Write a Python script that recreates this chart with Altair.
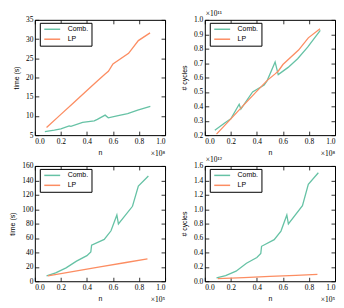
import altair as alt
import pandas as pd

series = ["Comb.", "LP"]
colors = ["#66c2a5", "#fc8d62"]
x_ticks = [0.0, 0.2, 0.4, 0.6, 0.8, 1.0]

# top row: n in units of 1e8
top_comb_n = [0.077, 0.15, 0.2, 0.264, 0.277, 0.367, 0.456, 0.48, 0.54, 0.564, 0.64, 0.713, 0.79, 0.887]
top_comb_time = [5.94, 6.3, 6.6, 7.4, 7.3, 8.3, 8.7, 9.1, 10.2, 9.5, 10.1, 10.6, 11.5, 12.5]
top_comb_cycles = [0.234, 0.283, 0.313, 0.414, 0.38, 0.5, 0.547, 0.58, 0.708, 0.62, 0.67, 0.73, 0.81, 0.927]
top_lp_n = [0.09, 0.2, 0.3, 0.4, 0.48, 0.54, 0.565, 0.6, 0.72, 0.795, 0.885]
top_lp_time = [7.0, 10.4, 13.5, 16.6, 19.1, 20.9, 21.6, 23.5, 26.3, 29.6, 31.6]
top_lp_cycles = [0.207, 0.313, 0.41, 0.505, 0.58, 0.625, 0.645, 0.69, 0.79, 0.875, 0.938]

# bottom row: n in units of 1e5
bot_comb_n = [0.09, 0.16, 0.24, 0.32, 0.40, 0.43, 0.436, 0.533, 0.585, 0.63, 0.642, 0.75, 0.795, 0.872]
bot_comb_time = [7.3, 11.5, 18.5, 27.9, 35.5, 40.7, 49.9, 58, 70, 92, 79.6, 104, 132, 146]
bot_comb_cycles = [0.046, 0.078, 0.14, 0.25, 0.33, 0.384, 0.485, 0.577, 0.696, 0.92, 0.796, 1.048, 1.346, 1.506]
bot_lp_n = [0.1, 0.3, 0.5, 0.7, 0.865]
bot_lp_time = [7.5, 13.8, 20.0, 26.0, 31.0]
bot_lp_cycles = [0.036, 0.051, 0.067, 0.082, 0.095]

W, H = 131, 116
SERIF = "Liberation Serif"
SANS = "Liberation Sans"


def make_df(nc, vc, nl, vl):
    return pd.DataFrame({
        "n": nc + nl,
        "v": vc + vl,
        "s": [series[0]] * len(nc) + [series[1]] * len(nl),
    })


def panel(df, ydom, yvals, yfmt, ytitle, xexp, yexp):
    xs = alt.Scale(domain=[0, 1], nice=False, zero=False)
    ys = alt.Scale(domain=ydom, nice=False, zero=False)
    tick = alt.ExprRef(expr="-4")
    common = dict(grid=False, domain=False, tickColor="black", tickSize=tick, tickWidth=0.8,
                  labelFont=SERIF, labelFontSize=7.5, labelColor="black",
                  titleFont=SANS, titleFontSize=7, titleFontWeight="normal", titleColor="black")
    lines = alt.Chart(df).mark_line(strokeWidth=1.3).encode(
        x=alt.X("n:Q", scale=xs, axis=alt.Axis(orient="bottom", values=x_ticks, format=".1f", title="n",
                                               labelPadding=6, titlePadding=4, **common)),
        y=alt.Y("v:Q", scale=ys, axis=alt.Axis(orient="left", values=yvals, format=yfmt, title=ytitle,
                                               labelPadding=6, titlePadding=6, **common)),
        color=alt.Color("s:N", scale=alt.Scale(domain=series, range=colors),
                        legend=alt.Legend(title=None, orient="none", legendX=5, legendY=3,
                                          strokeColor="black", fillColor="white", padding=3,
                                          symbolType="M-1,0H7", symbolSize=16, symbolStrokeWidth=1.5,
                                          labelFont=SANS, labelFontSize=7, labelColor="black",
                                          labelOffset=18, rowPadding=2)),
    )
    mirror = alt.Chart(df).mark_line(opacity=0).encode(
        x=alt.X("n:Q", scale=xs, axis=alt.Axis(orient="top", values=x_ticks, labels=False, title=None, **common)),
        y=alt.Y("v:Q", scale=ys, axis=alt.Axis(orient="right", values=yvals, labels=False, title=None, **common)),
    )
    layers = [lines, mirror]
    layers.append(alt.Chart(alt.Data(values=[{"t": xexp}])).mark_text(
        font=SERIF, fontSize=7.5, align="right", baseline="alphabetic", color="black"
    ).encode(x=alt.value(W), y=alt.value(H + 21), text="t:N"))
    if yexp:
        layers.append(alt.Chart(alt.Data(values=[{"t": yexp}])).mark_text(
            font=SERIF, fontSize=7.5, align="left", baseline="alphabetic", color="black"
        ).encode(x=alt.value(1), y=alt.value(-4), text="t:N"))
    return alt.layer(*layers).resolve_axis(x="independent", y="independent").properties(width=W, height=H)


p1 = panel(make_df(top_comb_n, top_comb_time, top_lp_n, top_lp_time),
           [5, 35], [5, 10, 15, 20, 25, 30, 35], "d", "time (s)", "×10⁸", None)
p2 = panel(make_df(top_comb_n, top_comb_cycles, top_lp_n, top_lp_cycles),
           [0.2, 1.0], [0.2, 0.3, 0.4, 0.5, 0.6, 0.7, 0.8, 0.9, 1.0], ".1f", "# cycles", "×10⁸", "×10¹¹")
p3 = panel(make_df(bot_comb_n, bot_comb_time, bot_lp_n, bot_lp_time),
           [0, 160], [0, 20, 40, 60, 80, 100, 120, 140, 160], "d", "time (s)", "×10⁵", None)
p4 = panel(make_df(bot_comb_n, bot_comb_cycles, bot_lp_n, bot_lp_cycles),
           [0, 1.6], [0.0, 0.2, 0.4, 0.6, 0.8, 1.0, 1.2, 1.4, 1.6], ".1f", "# cycles", "×10⁵", "×10¹²")

chart = alt.concat(p1, p2, p3, p4, columns=2, spacing={"row": 31, "column": 40}, bounds="flush") \
    .resolve_legend(color="independent") \
    .properties(padding=0, background="white") \
    .configure_view(stroke="black", strokeWidth=1)

chart.save("out.html", embed_options={"renderer": "svg", "actions": False})
